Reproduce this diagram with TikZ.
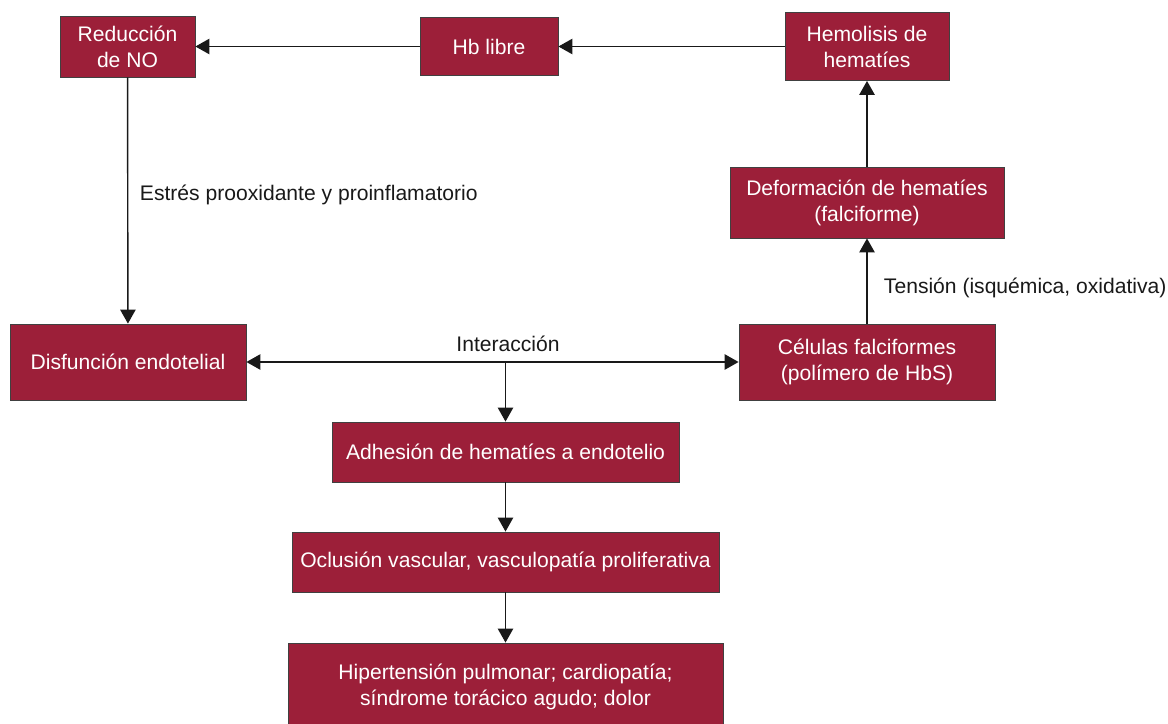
\documentclass[tikz,border=0pt]{standalone}
\usepackage{fontspec}
\setmainfont{Liberation Sans}
\usetikzlibrary{arrows.meta}
\definecolor{boxred}{HTML}{9C1F39}
\tikzset{
	box/.style={draw=black!75, line width=0.6pt, fill=boxred, text=white, align=center, inner sep=0pt, font=\fontsize{15}{18.5}\selectfont},
	arr/.style={line width=1pt, color=black!90, -{Triangle[length=10pt, width=11pt]}},
	lbl/.style={font=\fontsize{15}{18.5}\selectfont, text=black!90}
}

\begin{document}
\begin{tikzpicture}[x=0.025cm, y=-0.025cm]
			%%%%% START %%%%%
			\useasboundingbox (0, 0) rectangle (1168, 723);
			
			\node[box, minimum width=135*0.025cm, minimum height=61*0.025cm] (reduc) at (127.5, 46.5) {Reducción\\de NO};
			\node[box, minimum width=138*0.025cm, minimum height=58*0.025cm] (hb) at (489, 46.5) {Hb libre};
			\node[box, minimum width=164*0.025cm, minimum height=68*0.025cm] (hemo) at (867, 46.5) {Hemolisis de\\hematíes};
			
			\node[box, minimum width=274*0.025cm, minimum height=71*0.025cm] (deform) at (867, 202.5) {Deformación de hematíes\\(falciforme)};
			
			\node[box, minimum width=236*0.025cm, minimum height=76*0.025cm] (disf) at (128, 362) {Disfunción endotelial};
			\node[box, minimum width=256*0.025cm, minimum height=76*0.025cm] (cel) at (867, 362) {Células falciformes\\(polímero de HbS)};
			
			\node[box, minimum width=347*0.025cm, minimum height=60*0.025cm] (adh) at (505.5, 452) {Adhesión de hematíes a endotelio};
			\node[box, minimum width=427*0.025cm, minimum height=60*0.025cm] (ocl) at (505.5, 562) {Oclusión vascular, vasculopatía proliferativa};
			\node[box, minimum width=435*0.025cm, minimum height=88*0.025cm] (hip) at (505.5, 687) {Hipertensión pulmonar; cardiopatía;\\síndrome torácico agudo; dolor};
			
			\draw[arr] (hb) -- (reduc);
			\draw[arr] (hemo) -- (hb);
			\draw[arr] (reduc) -- (disf);
			\draw[arr] (deform) -- (hemo);
			\draw[arr] (cel) -- (deform);
			\draw[arr, {Triangle[length=10pt, width=11pt]}-{Triangle[length=10pt, width=11pt]}] (disf) -- (cel);
			\draw[arr] (disf.east -| adh.north) -- (adh);
			\draw[arr] (adh) -- (ocl);
			\draw[arr] (ocl) -- (hip);
			
			\node[lbl, anchor=west] (estres) at (135, 195) {Estrés prooxidante y proinflamatorio};
			\node[lbl, anchor=west] (tension) at (879, 288) {Tensión (isquémica, oxidativa)};
			\node[lbl] (inter) at (508, 344) {Interacción};
			
			%%%%% END %%%%%
\end{tikzpicture}
\end{document}
